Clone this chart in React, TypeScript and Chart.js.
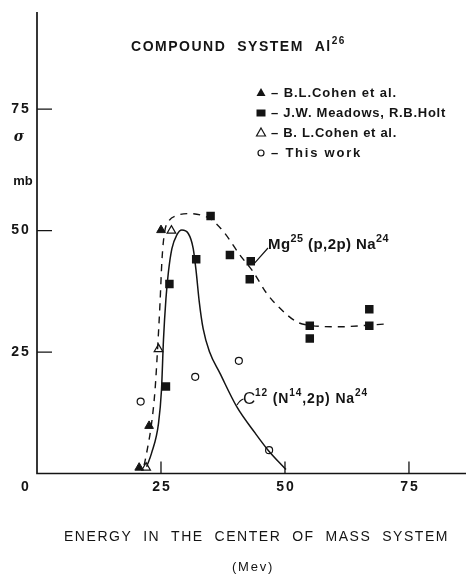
import React, { useEffect, useRef } from "react";
import { Chart, registerables } from "chart.js";
Chart.register(...registerables);

// ---- data ----
const xTickValues = [0, 25, 50, 75];
const xTickLabels = ["0", "25", "50", "75"];
const yTickValues = [25, 50, 75];
const yTickLabels = ["25", "50", "75"];

const cohenFilled = [
  { x: 20.6, y: 1.2 },
  { x: 22.6, y: 9.8 },
  { x: 25.0, y: 50.1 },
];
const meadowsHolt = [
  { x: 26.0, y: 17.9 },
  { x: 26.7, y: 39.0 },
  { x: 32.1, y: 44.1 },
  { x: 35.0, y: 53.0 },
  { x: 38.9, y: 45.0 },
  { x: 43.1, y: 43.7 },
  { x: 42.9, y: 40.0 },
  { x: 55.0, y: 30.4 },
  { x: 55.0, y: 27.8 },
  { x: 67.0, y: 33.8 },
  { x: 67.0, y: 30.4 },
];
const cohenOpen = [
  { x: 22.0, y: 1.2 },
  { x: 24.5, y: 25.6 },
  { x: 27.1, y: 50.0 },
];
const thisWork = [
  { x: 20.9, y: 14.8 },
  { x: 31.9, y: 19.9 },
  { x: 40.7, y: 23.2 },
  { x: 46.8, y: 4.8 },
];

// Mg25(p,2p)Na24 curve (dashed)
const mgCurve = [
  { x: 21.6, y: 1.7 },
  { x: 22.1, y: 4.2 },
  { x: 23.1, y: 10.3 },
  { x: 23.8, y: 17.2 },
  { x: 24.3, y: 25.4 },
  { x: 24.8, y: 35.0 },
  { x: 25.2, y: 44.0 },
  { x: 25.7, y: 49.5 },
  { x: 26.6, y: 52.0 },
  { x: 28.2, y: 53.1 },
  { x: 30.5, y: 53.5 },
  { x: 33.0, y: 53.2 },
  { x: 35.0, y: 52.4 },
  { x: 37.6, y: 49.8 },
  { x: 40.9, y: 45.0 },
  { x: 43.6, y: 41.5 },
  { x: 46.3, y: 37.1 },
  { x: 49.0, y: 34.0 },
  { x: 52.4, y: 31.2 },
  { x: 55.0, y: 30.5 },
  { x: 61.0, y: 30.2 },
  { x: 66.5, y: 30.5 },
  { x: 70.5, y: 30.8 },
];
// C12(N14,2p)Na24 curve (solid)
const cCurve = [
  { x: 22.1, y: 1.4 },
  { x: 23.1, y: 4.2 },
  { x: 24.5, y: 10.3 },
  { x: 25.1, y: 17.2 },
  { x: 25.5, y: 27.5 },
  { x: 26.0, y: 36.0 },
  { x: 26.5, y: 41.5 },
  { x: 27.2, y: 46.3 },
  { x: 28.2, y: 49.1 },
  { x: 29.2, y: 50.1 },
  { x: 30.5, y: 49.4 },
  { x: 31.5, y: 46.3 },
  { x: 32.1, y: 41.5 },
  { x: 32.7, y: 35.5 },
  { x: 33.5, y: 29.8 },
  { x: 34.8, y: 25.0 },
  { x: 36.9, y: 20.6 },
  { x: 40.3, y: 13.7 },
  { x: 44.0, y: 8.3 },
  { x: 46.6, y: 4.8 },
  { x: 50.2, y: 0.8 },
];

const legendLabels = [
  "– B.L.Cohen et al.",
  "– J.W. Meadows, R.B.Holt",
  "– B. L.Cohen et al.",
  "– This work",
];

const INK = "#141414";
const FONT = '"Liberation Sans"';

type Part = [string, boolean];

function richRun(
  ctx: CanvasRenderingContext2D,
  parts: Part[],
  x: number,
  y: number,
  size: number,
  weight: string,
  spacing: number,
  draw: boolean
) {
  let cx = x;
  for (const [t, sup] of parts) {
    const s = sup ? size * 0.72 : size;
    ctx.font = `${weight} ${s}px ${FONT}`;
    (ctx as any).letterSpacing = spacing + "px";
    const w = ctx.measureText(t).width;
    if (draw) ctx.fillText(t, cx, sup ? y - size * 0.42 : y);
    cx += w;
  }
  (ctx as any).letterSpacing = "0px";
  return cx - x;
}

function richFit(
  ctx: CanvasRenderingContext2D,
  parts: Part[],
  left: number,
  right: number,
  y: number,
  size: number,
  weight: string
) {
  const n = parts.reduce((a, p) => a + p[0].length, 0);
  const w0 = richRun(ctx, parts, 0, 0, size, weight, 0, false);
  const sp = (right - left - w0) / n;
  richRun(ctx, parts, left, y, size, weight, sp, true);
}

function drawMarker(ctx: CanvasRenderingContext2D, kind: string, x: number, y: number) {
  ctx.save();
  ctx.lineWidth = 1.2;
  ctx.strokeStyle = INK;
  ctx.fillStyle = INK;
  ctx.beginPath();
  if (kind === "triF" || kind === "triO") {
    const r = 5;
    ctx.moveTo(x, y - r);
    ctx.lineTo(x + r * 0.9, y + r * 0.6);
    ctx.lineTo(x - r * 0.9, y + r * 0.6);
    ctx.closePath();
    if (kind === "triF") ctx.fill();
    else {
      ctx.fillStyle = "#fff";
      ctx.fill();
      ctx.stroke();
    }
  } else if (kind === "sq") {
    ctx.rect(x - 4.5, y - 3.5, 9, 7);
    ctx.fill();
  } else {
    ctx.arc(x, y, 3, 0, Math.PI * 2);
    ctx.stroke();
  }
  ctx.restore();
}

const decorPlugin = {
  id: "decor",
  beforeDatasetsDraw(chart: any) {
    const ctx: CanvasRenderingContext2D = chart.ctx;
    const xs = chart.scales.x;
    const ys = chart.scales.y;
    const x0 = xs.getPixelForValue(0);
    const y0 = ys.getPixelForValue(0);
    ctx.save();
    ctx.strokeStyle = INK;
    ctx.lineWidth = 1.7;
    ctx.beginPath();
    ctx.moveTo(x0, ys.top);
    ctx.lineTo(x0, y0);
    ctx.lineTo(xs.right, y0);
    ctx.stroke();
    ctx.lineWidth = 1.3;
    ctx.beginPath();
    for (const v of yTickValues) {
      const py = ys.getPixelForValue(v);
      ctx.moveTo(x0, py);
      ctx.lineTo(x0 + 15, py);
    }
    for (const v of xTickValues) {
      if (v === 0) continue;
      const px = xs.getPixelForValue(v);
      ctx.moveTo(px, y0);
      ctx.lineTo(px, y0 - 12);
    }
    ctx.stroke();
    // leader lines
    ctx.lineWidth = 1.2;
    ctx.beginPath();
    ctx.moveTo(xs.getPixelForValue(43.6), ys.getPixelForValue(43.0));
    ctx.lineTo(268, 248);
    ctx.moveTo(237, 405);
    ctx.quadraticCurveTo(240, 400, 243.5, 399);
    ctx.stroke();
    ctx.restore();
  },
  afterDraw(chart: any) {
    const ctx: CanvasRenderingContext2D = chart.ctx;
    const xs = chart.scales.x;
    const ys = chart.scales.y;
    const x0 = xs.getPixelForValue(0);
    const y0 = ys.getPixelForValue(0);
    ctx.save();
    ctx.fillStyle = INK;
    ctx.textBaseline = "middle";
    ctx.textAlign = "center";
    ctx.font = `bold 14px ${FONT}`;
    (ctx as any).letterSpacing = "2px";
    yTickValues.forEach((v, i) => {
      ctx.fillText(yTickLabels[i], x0 - 16, ys.getPixelForValue(v));
    });
    xTickValues.forEach((v, i) => {
      const px = v === 0 ? x0 - 11 : xs.getPixelForValue(v) + 1;
      ctx.fillText(xTickLabels[i], px, y0 + 14);
    });
    (ctx as any).letterSpacing = "0px";
    ctx.font = `italic bold 14px "DejaVu Serif"`;
    ctx.fillText("σ", x0 - 18, 137);
    ctx.font = `bold 13px ${FONT}`;
    ctx.fillText("mb", x0 - 14, 181);
    ctx.textAlign = "left";

    // title
    richFit(ctx, [["COMPOUND  SYSTEM  Al", false], ["26", true]], 131, 346, 47, 14, "bold");
    // x-axis title
    richFit(ctx, [["ENERGY  IN  THE  CENTER  OF  MASS  SYSTEM", false]], 64, 449, 537, 14, "normal");
    richFit(ctx, [["(Mev)", false]], 232, 274, 567, 13, "normal");

    // legend
    const kinds = ["triF", "sq", "triO", "circ"];
    const rows = [93, 113, 133, 153];
    const ends = [397, 446, 397, 362];
    kinds.forEach((k, i) => {
      drawMarker(ctx, k, 261, rows[i]);
      richFit(ctx, [[legendLabels[i], false]], 271, ends[i], rows[i], 13, "bold");
    });

    // curve labels
    richFit(
      ctx,
      [["Mg", false], ["25", true], [" (p,2p) Na", false], ["24", true]],
      268,
      389,
      245,
      15,
      "bold"
    );
    ctx.font = `17px ${FONT}`;
    ctx.fillText("C", 243, 399);
    richFit(
      ctx,
      [["12", true], [" (N", false], ["14", true], [",2p) Na", false], ["24", true]],
      255,
      368,
      399,
      14,
      "bold"
    );
    ctx.restore();
  },
};

export default function App() {
  const ref = useRef<HTMLCanvasElement | null>(null);
  useEffect(() => {
    if (!ref.current) return;
    const chart = new Chart(ref.current, {
      type: "scatter",
      data: {
        datasets: [
          {
            label: "Mg25(p,2p)Na24",
            data: mgCurve,
            showLine: true,
            borderColor: INK,
            borderWidth: 1.4,
            borderDash: [7, 6],
            pointRadius: 0,
            cubicInterpolationMode: "monotone",
          } as any,
          {
            label: "C12(N14,2p)Na24",
            data: cCurve,
            showLine: true,
            borderColor: INK,
            borderWidth: 1.5,
            pointRadius: 0,
            cubicInterpolationMode: "monotone",
          } as any,
          {
            label: "B.L.Cohen et al. (filled)",
            data: cohenFilled,
            pointStyle: "triangle",
            pointRadius: 5,
            backgroundColor: INK,
            borderColor: INK,
            borderWidth: 1,
          },
          {
            label: "J.W. Meadows, R.B.Holt",
            data: meadowsHolt,
            pointStyle: "rect",
            pointRadius: 6,
            backgroundColor: INK,
            borderColor: INK,
            borderWidth: 0,
          },
          {
            label: "B.L.Cohen et al. (open)",
            data: cohenOpen,
            pointStyle: "triangle",
            pointRadius: 5,
            backgroundColor: "#fff",
            borderColor: INK,
            borderWidth: 1.2,
          },
          {
            label: "This work",
            data: thisWork,
            pointStyle: "circle",
            pointRadius: 3.5,
            backgroundColor: "#fff",
            borderColor: INK,
            borderWidth: 1.2,
          },
        ],
      },
      options: {
        responsive: false,
        animation: false,
        layout: { autoPadding: false, padding: { left: 37, top: 12, right: 0, bottom: 101.5 } },
        plugins: { legend: { display: false }, tooltip: { enabled: false } },
        scales: {
          x: { type: "linear", min: 0, max: 86.5, display: false },
          y: { type: "linear", min: 0, max: 95, display: false },
        },
      },
      plugins: [decorPlugin],
    });
    return () => chart.destroy();
  }, []);
  return (
    <div style={{ position: "absolute", left: 0, top: 0, width: 466, height: 575, background: "#fff" }}>
      <canvas ref={ref} width={466} height={575} style={{ display: "block" }} />
    </div>
  );
}
